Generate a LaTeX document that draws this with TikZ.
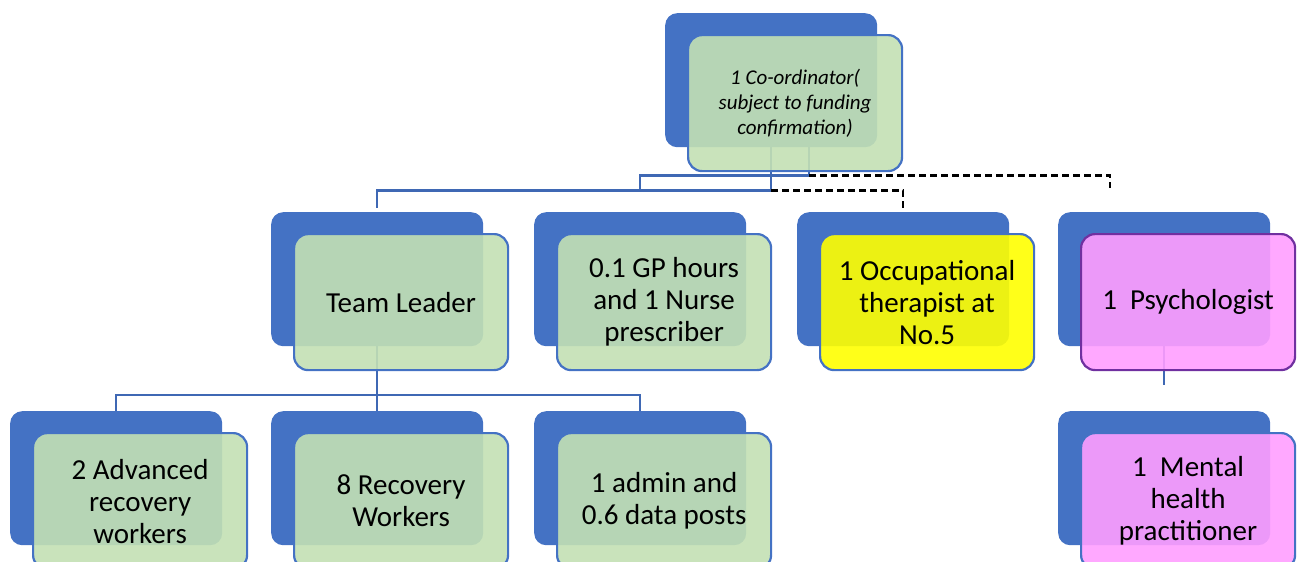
\documentclass[tikz,border=0pt]{standalone}
\usepackage{fontspec}
\setmainfont{Carlito}
\usetikzlibrary{calc}
\definecolor{cblue}{HTML}{4472C4}
\definecolor{cline}{HTML}{3F68B4}
\definecolor{cgreen}{HTML}{C3E0B4}
\definecolor{cyellow}{HTML}{FFFF00}
\definecolor{cpink}{HTML}{FF9EFF}
\definecolor{cpurple}{HTML}{7030A0}
\tikzset{
  bluebox/.style={rectangle, rounded corners=12pt, fill=cblue, minimum width=212pt, minimum height=134pt, anchor=north west, inner sep=0pt},
  frontbox/.style={rectangle, rounded corners=14pt, draw=cblue, line width=2.2pt, fill=cgreen, fill opacity=0.9, text opacity=1, minimum width=214pt, minimum height=136pt, anchor=north west, align=center, inner sep=0pt, font=\fontsize{29}{32}\selectfont},
  otbox/.style={frontbox, fill=cyellow},
  psbox/.style={frontbox, fill=cpink},
  conn/.style={draw=cline, line width=2.4pt},
  dconn/.style={draw=black, line width=2.4pt, dash pattern=on 7pt off 4pt}
}
\begin{document}
\begin{tikzpicture}[x=1pt,y=-1pt]
\useasboundingbox (0,0) rectangle (1302,562);
\clip (0,0) rectangle (1302,562);
% back boxes
\node[bluebox] (bco) at (665,13) {};
\node[bluebox] (btl) at (271,212) {};
\node[bluebox] (bgp) at (534,212) {};
\node[bluebox] (bot) at (797,212) {};
\node[bluebox] (bps) at (1058,212) {};
\node[bluebox] (bar) at (10,411) {};
\node[bluebox] (brw) at (271,411) {};
\node[bluebox] (bad) at (534,411) {};
\node[bluebox] (bmh) at (1058,411) {};
% connectors
\coordinate (j1) at ($(bco.south)+(0,43)$);
\coordinate (s2) at ($(bco.south)+(38,0)$);
\coordinate (j2) at ($(bco.south)+(38,28)$);
\draw[conn] (bco.south) -- (j1) -| ($(btl.north)+(0,-4)$);
\draw[conn] (s2) -- (j2) -| ($(bgp.north)+(0,-22)$);
\draw[dconn] (j1) -| ($(bot.north)+(0,-4)$);
\draw[dconn] (j2) -| ($(bps.north)+(-54,-24)$);
\coordinate (j3) at ($(btl.south)+(0,49)$);
\draw[conn] (btl.south) -- (j3) -- (brw.north);
\draw[conn] (bar.north) -- ++(0,-16) -| (bad.north);
\coordinate (pend) at ($(bps.south)+(0,39)$);
\draw[conn] (bps.south) -- (pend);
% front boxes
\node[frontbox, font=\fontsize{21}{25}\selectfont\itshape] (gco) at ($(bco.north west)+(22,21)$) {1 Co-ordinator(\\subject to funding\\confirmation)};
\node[frontbox] (gtl) at ($(btl.north west)+(22,21)$) {Team Leader};
\node[frontbox] (ggp) at ($(bgp.north west)+(22,21)$) {0.1 GP hours\\and 1 Nurse\\prescriber};
\node[otbox] (got) at ($(bot.north west)+(22,21)$) {1 Occupational\\therapist at\\No.5};
\node[psbox, draw=cpurple] (gps) at ($(bps.north west)+(22,21)$) {1~\ Psychologist};
\node[frontbox] (gar) at ($(bar.north west)+(22,21)$) {2 Advanced\\recovery\\workers};
\node[frontbox] (grw) at ($(brw.north west)+(22,21)$) {8 Recovery\\Workers};
\node[frontbox] (gad) at ($(bad.north west)+(22,21)$) {1 admin and\\0.6 data posts};
\node[psbox] (gmh) at ($(bmh.north west)+(22,21)$) {1~\ Mental\\health\\practitioner};
\end{tikzpicture}
\end{document}
